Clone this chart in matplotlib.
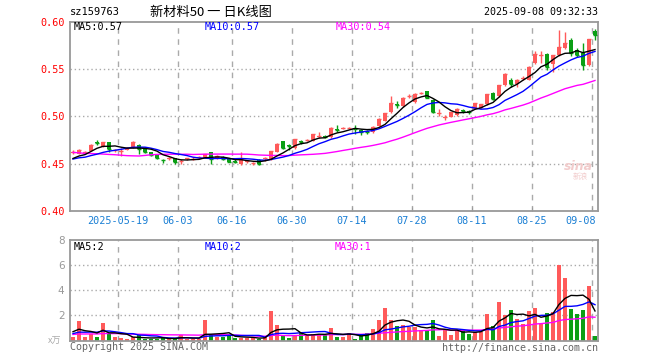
import matplotlib
matplotlib.use('Agg')
import matplotlib.pyplot as plt
import matplotlib.transforms as mtransforms
import numpy as np
import pandas as pd

# ---------------- data ----------------
code = "sz159763"
title = "新材料50 一 日K线图"
timestamp = "2025-09-08 09:32:33"

open_ = [0.4615, 0.4603, 0.4605, 0.4638, 0.4725, 0.4681, 0.4727, 0.4630, 0.4625, 0.4650,
         0.4673, 0.4700, 0.4656, 0.4620, 0.4595, 0.4540, 0.4545, 0.4556, 0.4525, 0.4545,
         0.4550, 0.4560, 0.4565, 0.4620, 0.4555, 0.4575, 0.4552, 0.4530, 0.4497, 0.4515,
         0.4505, 0.4540, 0.4545, 0.4545, 0.4625, 0.4737, 0.4695, 0.4667, 0.4740, 0.4748,
         0.4745, 0.4785, 0.4790, 0.4780, 0.4870, 0.4870, 0.4875, 0.4880, 0.4855, 0.4845,
         0.4833, 0.4904, 0.4957, 0.5046, 0.5130, 0.5106, 0.5215, 0.5152, 0.5245, 0.5269,
         0.5178, 0.5025, 0.4985, 0.4995, 0.5011, 0.5070, 0.5058, 0.5082, 0.5093, 0.5128,
         0.5248, 0.5213, 0.5330, 0.5390, 0.5345, 0.5400, 0.5390, 0.5565, 0.5645, 0.5660,
         0.5560, 0.5650, 0.5720, 0.5805, 0.5700, 0.5667, 0.5540, 0.5905]
high = [0.4645, 0.4655, 0.4630, 0.4710, 0.4748, 0.4735, 0.4735, 0.4652, 0.4665, 0.4675,
        0.4745, 0.4705, 0.4660, 0.4625, 0.4600, 0.4553, 0.4568, 0.4560, 0.4545, 0.4565,
        0.4568, 0.4580, 0.4606, 0.4625, 0.4590, 0.4580, 0.4555, 0.4550, 0.4620, 0.4535,
        0.4520, 0.4545, 0.4570, 0.4638, 0.4715, 0.4745, 0.4710, 0.4765, 0.4755, 0.4762,
        0.4820, 0.4833, 0.4800, 0.4885, 0.4912, 0.4885, 0.4890, 0.4915, 0.4870, 0.4860,
        0.4898, 0.4980, 0.5040, 0.5213, 0.5163, 0.5205, 0.5234, 0.5245, 0.5258, 0.5275,
        0.5185, 0.5082, 0.5020, 0.5050, 0.5088, 0.5082, 0.5064, 0.5145, 0.5132, 0.5240,
        0.5255, 0.5335, 0.5460, 0.5408, 0.5395, 0.5426, 0.5530, 0.5695, 0.5690, 0.5670,
        0.5655, 0.5915, 0.5897, 0.5830, 0.5720, 0.5777, 0.5825, 0.5930]
low = [0.4605, 0.4600, 0.4600, 0.4630, 0.4695, 0.4675, 0.4628, 0.4625, 0.4585, 0.4645,
       0.4665, 0.4606, 0.4610, 0.4585, 0.4555, 0.4512, 0.4540, 0.4500, 0.4495, 0.4540,
       0.4540, 0.4555, 0.4560, 0.4497, 0.4550, 0.4540, 0.4515, 0.4510, 0.4490, 0.4510,
       0.4490, 0.4490, 0.4525, 0.4535, 0.4620, 0.4660, 0.4650, 0.4660, 0.4710, 0.4745,
       0.4737, 0.4770, 0.4770, 0.4775, 0.4833, 0.4865, 0.4870, 0.4815, 0.4800, 0.4815,
       0.4828, 0.4900, 0.4950, 0.5040, 0.5092, 0.5100, 0.5199, 0.5145, 0.5234, 0.5195,
       0.5040, 0.5000, 0.4965, 0.4993, 0.5005, 0.5035, 0.5029, 0.5078, 0.5090, 0.5125,
       0.5175, 0.5210, 0.5325, 0.5310, 0.5310, 0.5383, 0.5385, 0.5560, 0.5570, 0.5490,
       0.5470, 0.5645, 0.5710, 0.5645, 0.5630, 0.5490, 0.5535, 0.5810]
close = [0.4625, 0.4649, 0.4625, 0.4702, 0.4718, 0.4727, 0.4652, 0.4645, 0.4635, 0.4668,
         0.4727, 0.4656, 0.4625, 0.4595, 0.4565, 0.4535, 0.4562, 0.4514, 0.4530, 0.4558,
         0.4555, 0.4575, 0.4600, 0.4550, 0.4580, 0.4545, 0.4520, 0.4522, 0.4550, 0.4530,
         0.4510, 0.4498, 0.4565, 0.4630, 0.4710, 0.4670, 0.4688, 0.4760, 0.4735, 0.4755,
         0.4816, 0.4790, 0.4782, 0.4880, 0.4862, 0.4880, 0.4880, 0.4870, 0.4840, 0.4838,
         0.4893, 0.4975, 0.5035, 0.5141, 0.5125, 0.5199, 0.5220, 0.5241, 0.5250, 0.5199,
         0.5046, 0.5032, 0.4990, 0.5046, 0.5082, 0.5060, 0.5050, 0.5141, 0.5128, 0.5234,
         0.5189, 0.5330, 0.5447, 0.5348, 0.5390, 0.5405, 0.5524, 0.5660, 0.5652, 0.5524,
         0.5650, 0.5737, 0.5780, 0.5667, 0.5650, 0.5543, 0.5820, 0.5862]
volume = [0.30, 1.55, 0.30, 0.55, 0.30, 1.40, 0.50, 0.30, 0.20, 0.10,
          0.25, 0.40, 0.15, 0.10, 0.15, 0.30, 0.10, 0.15, 0.40, 0.15,
          0.15, 0.15, 1.60, 0.45, 0.30, 0.30, 0.45, 0.20, 0.20, 0.20,
          0.20, 0.15, 0.30, 2.35, 1.25, 0.45, 0.20, 0.45, 0.65, 0.45,
          0.50, 0.45, 0.40, 1.00, 0.30, 0.30, 0.60, 0.15, 0.45, 0.60,
          0.90, 1.60, 2.60, 1.60, 1.15, 1.20, 1.10, 1.10, 0.80, 0.80,
          1.60, 0.35, 0.90, 0.45, 0.85, 0.75, 0.50, 0.70, 0.70, 2.10,
          1.15, 3.05, 2.00, 2.45, 1.70, 1.30, 2.35, 2.60, 1.30, 2.20,
          2.25, 6.00, 5.00, 2.50, 2.10, 2.45, 4.35, 0.35]

# closes / volumes before the visible window (only used to warm up the moving averages)
warmup_close = [0.478, 0.480, 0.476, 0.479, 0.482, 0.477, 0.474, 0.478, 0.481, 0.479,
                0.470, 0.445, 0.438, 0.446, 0.449, 0.453, 0.451, 0.456, 0.454, 0.464,
                0.452, 0.456, 0.453, 0.457, 0.454, 0.452, 0.455, 0.4535, 0.455]
warmup_vol = [0.35, 0.40, 0.30, 0.45, 0.50, 0.35, 0.40, 0.30, 0.90, 0.80,
              0.60, 0.50, 0.45, 0.40, 0.35, 0.40, 0.30, 0.45, 0.40, 0.30,
              0.40, 0.35, 0.45, 0.40, 0.40, 0.55, 0.90, 0.85, 0.90]

tick_idx = [8, 18, 27, 37, 47, 57, 67, 77, 87]
tick_labels = ["2025-05-19", "06-03", "06-16", "06-30", "07-14",
               "07-28", "08-11", "08-25", "09-08"]
price_ticks = [0.40, 0.45, 0.50, 0.55, 0.60]
price_grid = [0.45, 0.50, 0.55]
vol_ticks = [2, 4, 6, 8]
vol_grid = [2, 4, 6]

# ---------------- computations ----------------
n = len(close)
x = np.arange(n)
nw = len(warmup_close)
cs = pd.Series(warmup_close + close)
vs = pd.Series(warmup_vol + volume)
ma = {w: cs.rolling(w).mean().to_numpy()[nw:] for w in (5, 10, 30)}
vma = {w: vs.rolling(w).mean().to_numpy()[nw:] for w in (5, 10, 30)}

RED = '#ff5a5a'
GREEN = '#0a9f14'
GRID = '#aaaaaa'
SPINE = '#999999'
MONO = 'DejaVu Sans Mono'
CJK = ['Noto Sans CJK SC', 'DejaVu Sans']
W, H = 660, 360

fig = plt.figure(figsize=(6.6, 3.6), dpi=100)
fig.patch.set_facecolor('white')

def fx(px):
    return px / W

def fy(py):
    return 1 - py / H

ax = fig.add_axes([fx(70), fy(211), fx(598) - fx(70), fy(22) - fy(211)])
axv = fig.add_axes([fx(70), fy(340.5), fx(598) - fx(70), fy(240) - fy(340.5)])

colors = [RED if c >= o else GREEN for o, c in zip(open_, close)]

for a in (ax, axv):
    a.set_xlim(-0.5, n - 0.5)
    for sp in a.spines.values():
        sp.set_color(SPINE)
        sp.set_linewidth(1.3)
    for t in tick_idx:
        a.axvline(t - 0.5, color=GRID, lw=1, ls=(0, (4, 4)), zorder=0)
    a.set_xticks([t - 0.5 for t in tick_idx])
    a.tick_params(axis='x', direction='in', length=3, color=SPINE, labelbottom=False)

# price panel
ax.set_ylim(0.40, 0.60)
for g in price_grid:
    ax.axhline(g, color=GRID, lw=1, ls=(0, (1, 2)), zorder=0)
ax.vlines(x, low, high, colors=colors, lw=1, zorder=2)
body_h = [abs(c - o) for o, c in zip(open_, close)]
body_b = [min(o, c) for o, c in zip(open_, close)]
ax.bar(x, body_h, bottom=body_b, width=0.8, color=colors, lw=0, zorder=3)
ax.hlines(close, x - 0.4, x + 0.4, colors=colors, lw=1, zorder=3)
ax.plot(x, ma[30], color='#ff00ff', lw=1, zorder=4)
ax.plot(x, ma[10], color='#0000ff', lw=1, zorder=4)
ax.plot(x, ma[5], color='#000000', lw=1, zorder=4)
ax.set_yticks(price_ticks)
ax.set_yticklabels([f"{v:.2f}" for v in price_ticks], color='red', fontfamily=MONO, fontsize=7.3)
ax.tick_params(axis='y', length=0, pad=4)

# date labels
trans = mtransforms.blended_transform_factory(ax.transData, fig.transFigure)
for t, lab in zip(tick_idx, tick_labels):
    if t == tick_idx[-1]:
        ax.text(n - 0.9, fy(221), lab, transform=trans, ha='right', va='center',
                color='#1a7fd4', fontfamily=MONO, fontsize=7.3)
    else:
        ax.text(t - 0.5, fy(221), lab, transform=trans, ha='center', va='center',
                color='#1a7fd4', fontfamily=MONO, fontsize=7.3)

# volume panel
axv.set_ylim(0, 8)
for g in vol_grid:
    axv.axhline(g, color=GRID, lw=1, ls=(0, (1, 2)), zorder=0)
axv.bar(x, volume, width=0.8, color=colors, lw=0, zorder=2)
axv.plot(x, vma[30], color='#ff00ff', lw=1, zorder=4)
axv.plot(x, vma[10], color='#0000ff', lw=1, zorder=4)
axv.plot(x, vma[5], color='#000000', lw=1, zorder=4)
axv.set_yticks(vol_ticks)
axv.set_yticklabels([str(v) for v in vol_ticks], color='#999999', fontsize=7.5)
axv.tick_params(axis='y', length=0, pad=4)

# header texts
fig.text(fx(70), fy(12), code, fontfamily=MONO, fontsize=7.5, va='center', ha='left', color='black')
fig.text(fx(150), fy(12), title, fontfamily=CJK, fontsize=9.5, va='center', ha='left', color='black')
fig.text(fx(598), fy(12), timestamp, fontfamily=MONO, fontsize=7.2, va='center', ha='right', color='black')

# MA legends
fig.text(fx(74), fy(27), f"MA5:{ma[5][-1]:.2f}", fontfamily=MONO, fontsize=7.3, va='center', color='black')
fig.text(fx(205), fy(27), f"MA10:{ma[10][-1]:.2f}", fontfamily=MONO, fontsize=7.3, va='center', color='#0000ff')
fig.text(fx(336), fy(27), f"MA30:{ma[30][-1]:.2f}", fontfamily=MONO, fontsize=7.3, va='center', color='#ff00ff')
fig.text(fx(74), fy(247), f"MA5:{int(vma[5][-1])}", fontfamily=MONO, fontsize=7.3, va='center', color='black')
fig.text(fx(205), fy(247), f"MA10:{int(vma[10][-1])}", fontfamily=MONO, fontsize=7.3, va='center', color='#0000ff')
fig.text(fx(335), fy(247), f"MA30:{int(vma[30][-1])}", fontfamily=MONO, fontsize=7.3, va='center', color='#ff00ff')

# footer
fig.text(fx(70), fy(347), "Copyright 2025 SINA.COM", fontfamily=MONO, fontsize=7.2, va='center', color='#666666')
fig.text(fx(598), fy(348), "http://finance.sina.com.cn", fontfamily=MONO, fontsize=7.2, va='center', ha='right', color='#666666')
fig.text(fx(48), fy(341), "x万", fontfamily=CJK, fontsize=6.5, va='center', ha='left', color='#aaaaaa')

# faint watermark
fig.text(fx(578), fy(166), "sina", fontsize=9, style='italic', fontweight='bold', color='#f2cccc', ha='center', va='center')
fig.text(fx(580), fy(177), "新浪", fontfamily=CJK, fontsize=5.5, color='#f2cccc', ha='center', va='center')

fig.savefig('out.png', dpi=100, facecolor='white')
